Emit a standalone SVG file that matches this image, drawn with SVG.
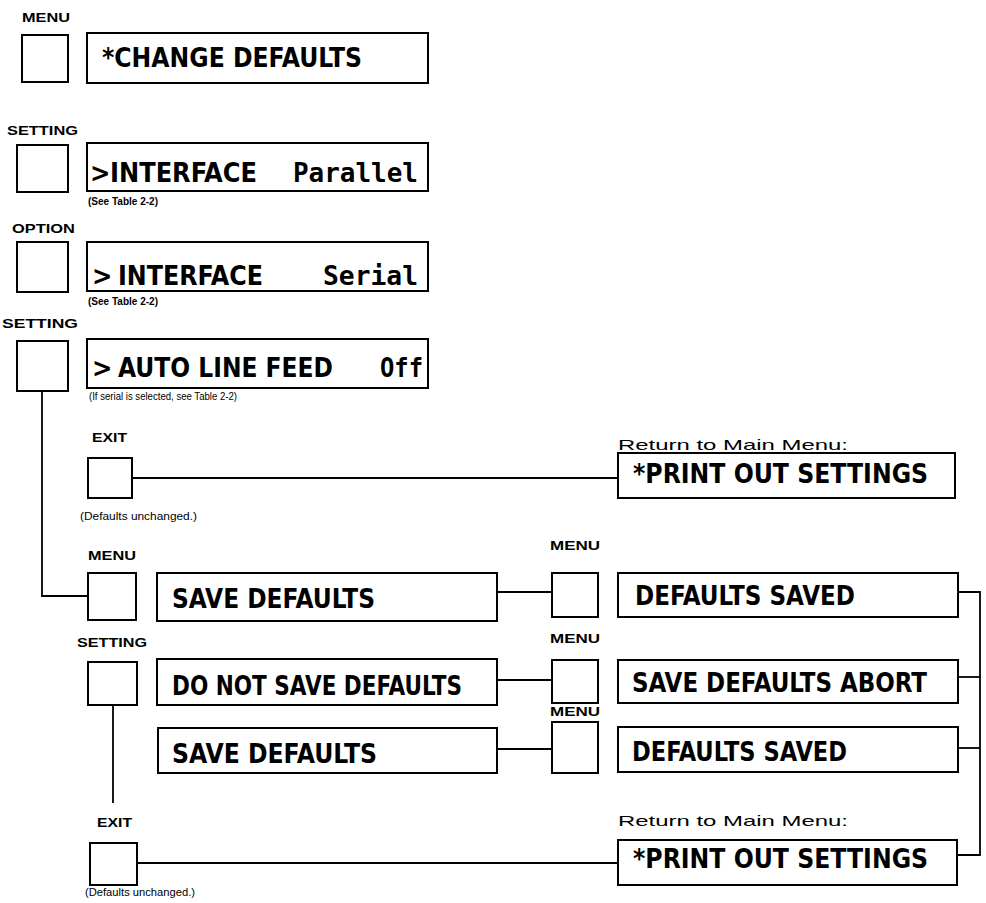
<svg xmlns="http://www.w3.org/2000/svg" width="986" height="903" viewBox="0 0 986 903">
<style>
.bg{fill:#fff}
.key{fill:#fff;stroke:#000;stroke-width:2}
.disp{fill:#fff;stroke:#000;stroke-width:2}
.lcd{font-family:"DejaVu Sans","Liberation Sans",sans-serif;font-stretch:condensed;font-weight:bold;font-size:27px;fill:#000}
.mono{font-family:"DejaVu Sans Mono","Liberation Mono",monospace;font-stretch:normal}
.lbl{font-family:"Liberation Sans",Arial,sans-serif;font-weight:bold;font-size:12px;fill:#000}
.note{font-family:"Liberation Sans",Arial,sans-serif;font-size:10px;fill:#000}
.noteb{font-family:"Liberation Sans",Arial,sans-serif;font-weight:bold;font-size:10px;fill:#000}
.ret{font-family:"Liberation Sans",Arial,sans-serif;font-size:15px;fill:#000}
.wire{fill:none;stroke:#000;stroke-width:1.8}
</style>
<rect class="bg" x="0" y="0" width="986" height="903"/>

<g id="connectors">
  <polyline class="wire" points="42,391 42,596 88,596"/>
  <line class="wire" x1="132" y1="478" x2="618" y2="478"/>
  <line class="wire" x1="497" y1="592" x2="552" y2="592"/>
  <line class="wire" x1="497" y1="680" x2="552" y2="680"/>
  <line class="wire" x1="497" y1="749" x2="552" y2="749"/>
  <line class="wire" x1="113" y1="705" x2="113" y2="803"/>
  <line class="wire" x1="137" y1="863" x2="618" y2="863"/>
  <polyline class="wire" points="958,592 980,592 980,855 957,855"/>
  <line class="wire" x1="958" y1="677" x2="980" y2="677"/>
  <line class="wire" x1="958" y1="748" x2="980" y2="748"/>
</g>

<g id="menu-change-defaults">
  <text class="lbl" x="22" y="22" textLength="48" lengthAdjust="spacingAndGlyphs">MENU</text>
  <rect class="key" x="22" y="35" width="46" height="47"/>
  <rect class="disp" x="87" y="33" width="341" height="50"/>
  <text class="lcd" x="102" y="67" textLength="260" lengthAdjust="spacingAndGlyphs">*CHANGE DEFAULTS</text>
</g>

<g id="setting-interface-parallel">
  <text class="lbl" x="7" y="135" textLength="71" lengthAdjust="spacingAndGlyphs">SETTING</text>
  <rect class="key" x="17" y="145" width="51" height="47"/>
  <rect class="disp" x="87" y="143" width="341" height="48"/>
  <text class="lcd" y="182"><tspan x="90">&gt;</tspan> <tspan x="110" textLength="147" lengthAdjust="spacingAndGlyphs">INTERFACE</tspan> <tspan class="mono" x="293" textLength="125" lengthAdjust="spacingAndGlyphs">Parallel</tspan></text>
  <text class="noteb" x="88" y="205" textLength="70" lengthAdjust="spacingAndGlyphs">(See Table 2-2)</text>
</g>

<g id="option-interface-serial">
  <text class="lbl" x="12" y="233" textLength="63" lengthAdjust="spacingAndGlyphs">OPTION</text>
  <rect class="key" x="17" y="242" width="51" height="50"/>
  <rect class="disp" x="87" y="242" width="341" height="49"/>
  <text class="lcd" y="285"><tspan x="92">&gt;</tspan> <tspan x="118" textLength="145" lengthAdjust="spacingAndGlyphs">INTERFACE</tspan> <tspan class="mono" x="323" textLength="95" lengthAdjust="spacingAndGlyphs">Serial</tspan></text>
  <text class="noteb" x="88" y="305" textLength="70" lengthAdjust="spacingAndGlyphs">(See Table 2-2)</text>
</g>

<g id="setting-auto-line-feed">
  <text class="lbl" x="2" y="328" textLength="76" lengthAdjust="spacingAndGlyphs">SETTING</text>
  <rect class="key" x="17" y="341" width="51" height="50"/>
  <rect class="disp" x="87" y="339" width="341" height="49"/>
  <text class="lcd" y="377"><tspan x="92">&gt;</tspan> <tspan x="118" textLength="215" lengthAdjust="spacingAndGlyphs">AUTO LINE FEED</tspan> <tspan class="mono" x="380" textLength="43" lengthAdjust="spacingAndGlyphs">Off</tspan></text>
  <text class="note" x="89" y="400" textLength="148" lengthAdjust="spacingAndGlyphs">(If serial is selected, see Table 2-2)</text>
</g>

<g id="exit-1">
  <text class="lbl" x="92" y="442" textLength="35" lengthAdjust="spacingAndGlyphs">EXIT</text>
  <rect class="key" x="88" y="458" width="44" height="40"/>
  <text class="note" x="80" y="520" textLength="117" lengthAdjust="spacingAndGlyphs">(Defaults unchanged.)</text>
</g>

<g id="print-out-settings-1">
  <text class="ret" x="618" y="450" textLength="230" lengthAdjust="spacingAndGlyphs">Return to Main Menu:</text>
  <rect class="disp" x="618" y="453" width="337" height="45"/>
  <text class="lcd" x="633" y="483" textLength="295" lengthAdjust="spacingAndGlyphs">*PRINT OUT SETTINGS</text>
</g>

<g id="menu-save-defaults">
  <text class="lbl" x="88" y="560" textLength="48" lengthAdjust="spacingAndGlyphs">MENU</text>
  <rect class="key" x="88" y="573" width="48" height="47"/>
  <rect class="disp" x="157" y="573" width="340" height="48"/>
  <text class="lcd" x="172" y="608" textLength="203" lengthAdjust="spacingAndGlyphs">SAVE DEFAULTS</text>
</g>

<g id="menu-defaults-saved-1">
  <text class="lbl" x="550" y="550" textLength="50" lengthAdjust="spacingAndGlyphs">MENU</text>
  <rect class="key" x="552" y="573" width="46" height="44"/>
  <rect class="disp" x="618" y="573" width="340" height="44"/>
  <text class="lcd" x="635" y="605" textLength="220" lengthAdjust="spacingAndGlyphs">DEFAULTS SAVED</text>
</g>

<g id="setting-do-not-save">
  <text class="lbl" x="77" y="647" textLength="70" lengthAdjust="spacingAndGlyphs">SETTING</text>
  <rect class="key" x="88" y="662" width="49" height="43"/>
  <rect class="disp" x="157" y="659" width="340" height="46"/>
  <text class="lcd" x="172" y="695" textLength="290" lengthAdjust="spacingAndGlyphs">DO NOT SAVE DEFAULTS</text>
</g>

<g id="menu-save-defaults-abort">
  <text class="lbl" x="550" y="643" textLength="50" lengthAdjust="spacingAndGlyphs">MENU</text>
  <rect class="key" x="552" y="660" width="46" height="43"/>
  <rect class="disp" x="618" y="660" width="340" height="43"/>
  <text class="lcd" x="632" y="692" textLength="295" lengthAdjust="spacingAndGlyphs">SAVE DEFAULTS ABORT</text>
</g>

<g id="save-defaults-2">
  <rect class="disp" x="158" y="728" width="339" height="45"/>
  <text class="lcd" x="172" y="763" textLength="205" lengthAdjust="spacingAndGlyphs">SAVE DEFAULTS</text>
</g>

<g id="menu-defaults-saved-2">
  <text class="lbl" x="550" y="716" textLength="50" lengthAdjust="spacingAndGlyphs">MENU</text>
  <rect class="key" x="552" y="722" width="46" height="51"/>
  <rect class="disp" x="618" y="727" width="340" height="45"/>
  <text class="lcd" x="632" y="761" textLength="215" lengthAdjust="spacingAndGlyphs">DEFAULTS SAVED</text>
</g>

<g id="exit-2">
  <text class="lbl" x="97" y="827" textLength="35" lengthAdjust="spacingAndGlyphs">EXIT</text>
  <rect class="key" x="90" y="843" width="47" height="42"/>
  <text class="note" x="85" y="896" textLength="110" lengthAdjust="spacingAndGlyphs">(Defaults unchanged.)</text>
</g>

<g id="print-out-settings-2">
  <text class="ret" x="618" y="826" textLength="230" lengthAdjust="spacingAndGlyphs">Return to Main Menu:</text>
  <rect class="disp" x="618" y="840" width="339" height="45"/>
  <text class="lcd" x="633" y="868" textLength="295" lengthAdjust="spacingAndGlyphs">*PRINT OUT SETTINGS</text>
</g>
</svg>
